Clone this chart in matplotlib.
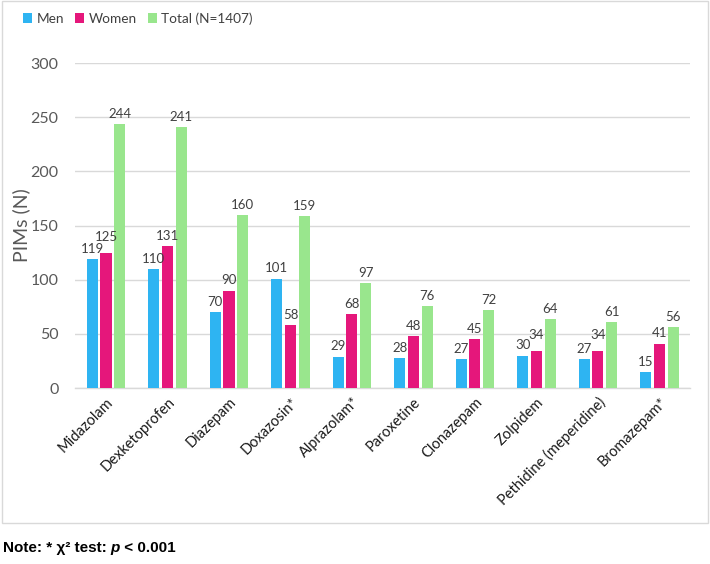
import matplotlib
matplotlib.use("Agg")
import matplotlib.pyplot as plt
import numpy as np
from matplotlib.patches import Rectangle

# ── Data ─────────────────────────────────────────────────────────────────────
drugs = ["Midazolam", "Dexketoprofen", "Diazepam", "Doxazosin*", "Alprazolam*",
         "Paroxetine", "Clonazepam", "Zolpidem", "Pethidine (meperidine)",
         "Bromazepam*"]
men = [119, 110, 70, 101, 29, 28, 27, 30, 27, 15]
women = [125, 131, 90, 58, 68, 48, 45, 34, 34, 41]
total = [244, 241, 160, 159, 97, 76, 72, 64, 61, 56]

series = [
    ("Men", men, "#2EB4F2"),
    ("Women", women, "#E5177B"),
    ("Total (N=1407)", total, "#99E68D"),
]

plt.rcParams["font.family"] = ["Lato", "DejaVu Sans"]

fig = plt.figure(figsize=(7.1, 5.64), dpi=100)
ax = fig.add_axes([0.106, 0.312, 0.866, 0.576])

x = np.arange(len(drugs))
width = 0.18
offsets = [-0.225, 0.0, 0.225]

for (name, vals, color), off in zip(series, offsets):
    ax.bar(x + off, vals, width, color=color, label=name, zorder=3)

# value labels; nudge a women label up when it would collide with the men label
for i in range(len(drugs)):
    for (name, vals, color), off in zip(series, offsets):
        v = vals[i]
        dy = 3
        if name == "Women" and abs(women[i] - men[i]) < 10:
            dy = 7
        ax.annotate(str(v), (x[i] + off, v), xytext=(0, dy),
                    textcoords="offset points", ha="center", va="bottom",
                    fontsize=9.5, color="#404040")

ax.set_xlim(-0.5, len(drugs) - 0.5)
ax.set_ylim(0, 300)
ax.set_yticks(range(0, 301, 50))
ax.tick_params(axis="y", labelsize=11.5, colors="#595959", length=0, pad=12)
ax.tick_params(axis="x", length=0, pad=5)
ax.set_xticks(x)
ax.set_xticklabels(drugs, rotation=45, ha="right", rotation_mode="anchor",
                   fontsize=10.5, color="#1a1a1a")
ax.grid(axis="y", color="#d9d9d9", linewidth=1, zorder=0)
for s in ["top", "right", "left"]:
    ax.spines[s].set_visible(False)
ax.spines["bottom"].set_color("#d9d9d9")
ax.spines["bottom"].set_linewidth(1)
ax.set_ylabel("PIMs (N)", fontsize=14, color="#595959", labelpad=0)

fig.legend(loc="upper left", bbox_to_anchor=(0.015, 1.0), ncol=3, frameon=False,
           fontsize=9.8, handlelength=0.7, handleheight=0.7, handletextpad=0.3,
           columnspacing=0.8, labelcolor="#404040")

# chart frame
fig.patches.append(Rectangle((0.003, 0.073), 0.994, 0.925, transform=fig.transFigure,
                             fill=False, edgecolor="#d9d9d9", linewidth=1))

# note below the chart, with italic p
note_font = dict(fontsize=11, fontweight="bold",
                 family=["Liberation Sans", "DejaVu Sans"], va="center")
renderer = fig.canvas.get_renderer()
xpos = 0.004
for part, style in [("Note: * \u03c7\u00b2 test: ", "normal"), ("p", "italic"),
                    (" < 0.001", "normal")]:
    t = fig.text(xpos, 0.028, part, ha="left", style=style, **note_font)
    bb = t.get_window_extent(renderer=renderer)
    xpos += bb.width / fig.bbox.width

fig.savefig("out.png", dpi=100)
